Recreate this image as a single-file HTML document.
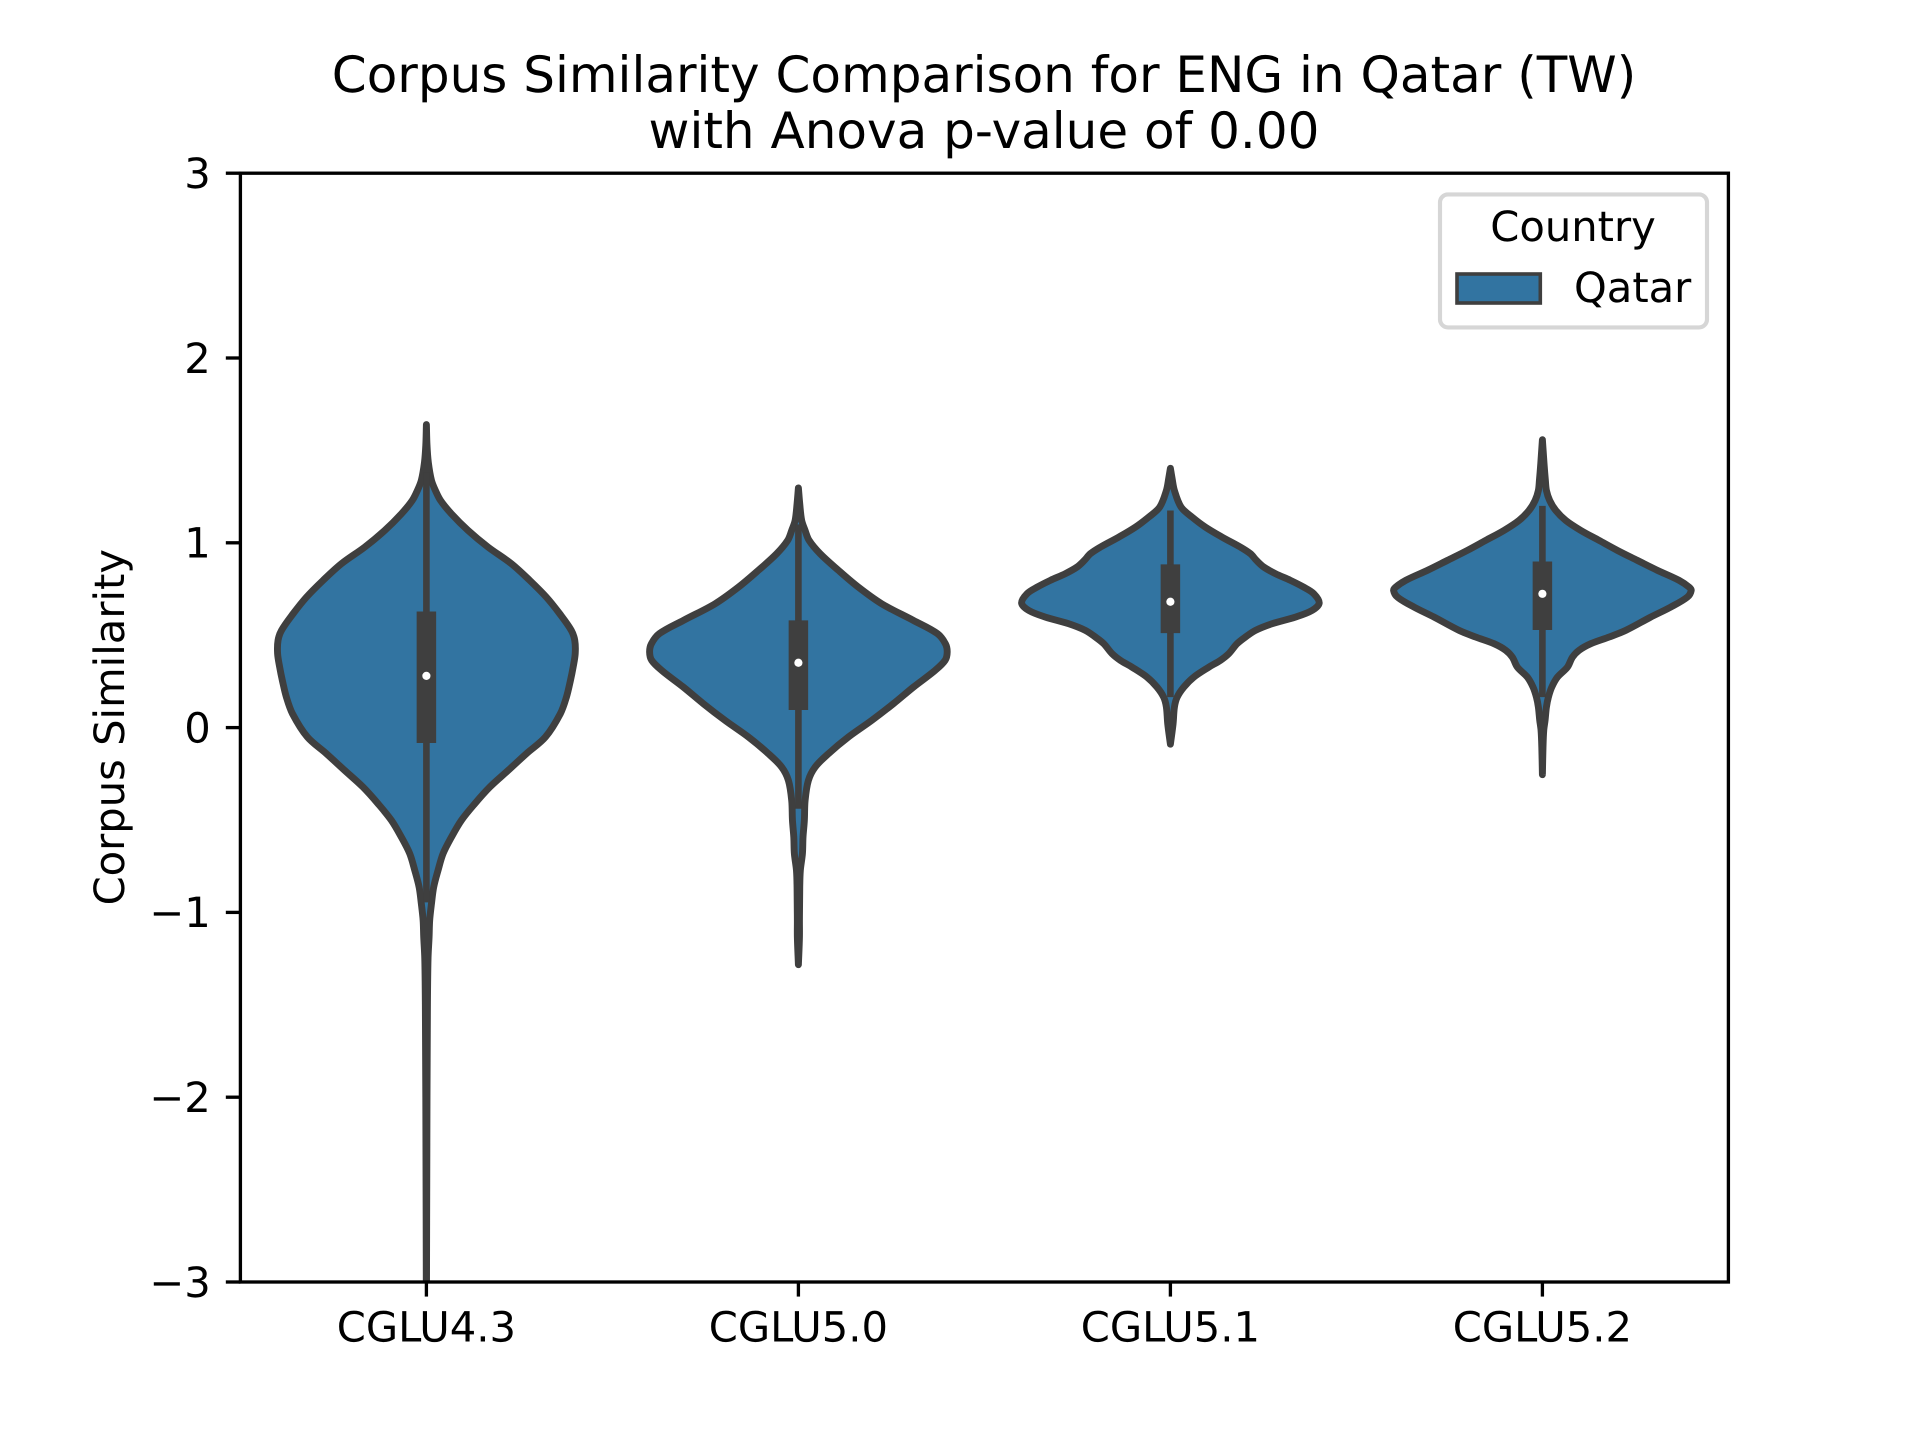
<!DOCTYPE html>
<html lang="en">
<head>
<meta charset="utf-8">
<title>Corpus Similarity Comparison for ENG in Qatar (TW)</title>
<style>
html,body{margin:0;padding:0;background:#fff;width:1920px;height:1440px;overflow:hidden}
svg{display:block}
text{font-family:"DejaVu Sans","Liberation Sans",sans-serif;fill:#000;text-rendering:geometricPrecision}
</style>
</head>
<body>
<svg id="chart" xmlns="http://www.w3.org/2000/svg" width="1920" height="1440" viewBox="0 0 1920 1440">
  <rect x="0" y="0" width="1920" height="1440" fill="#ffffff"/>
  <defs>
    <clipPath id="plot-clip"><rect x="240.4" y="173.2" width="1488" height="1108.8"/></clipPath>
  </defs>
  <g id="violins" clip-path="url(#plot-clip)"></g>
  <g id="ticks"></g>
  <rect x="240.4" y="173.2" width="1488" height="1108.8" fill="none" stroke="#000" stroke-width="3.33"/>
  <g text-anchor="middle" font-size="50">
    <text x="984" y="92">Corpus Similarity Comparison for ENG in Qatar (TW)</text>
    <text x="984" y="148">with Anova p-value of 0.00</text>
  </g>
  <text font-size="41.67" text-anchor="middle" transform="translate(124,727.2) rotate(-90)">Corpus Similarity</text>
  <g>
    <rect x="1440" y="194.4" width="267" height="133" rx="8" ry="8" fill="#ffffff" stroke="#d6d6d6" stroke-width="4.17"/>
    <text x="1573" y="241" font-size="41.67" text-anchor="middle">Country</text>
    <rect x="1457" y="274" width="83.3" height="29" fill="#3274a1" stroke="#3f3f3f" stroke-width="3.6"/>
    <text x="1574" y="302" font-size="41.67">Qatar</text>
  </g>
</svg>
<script>
const categories = ["CGLU4.3", "CGLU5.0", "CGLU5.1", "CGLU5.2"];
const yTickValues = [-3, -2, -1, 0, 1, 2, 3];
const yTickLabels = ["\u22123", "\u22122", "\u22121", "0", "1", "2", "3"];

const gridCglu43 = [1.64,1.528,1.435,1.338,1.284,1.229,1.157,1.067,0.977,0.887,0.797,0.706,0.616,0.526,0.472,0.400,0.327,0.255,0.165,0.075,-0.051,-0.141,-0.232,-0.322,-0.412,-0.502,-0.593,-0.682,-0.773,-0.863,-0.953,-1.043,-1.134,-1.249,-1.5,-2.0,-2.9,-3.5];
const densityCglu43 = [0,0.004,0.013,0.034,0.060,0.095,0.168,0.280,0.414,0.571,0.694,0.806,0.896,0.974,0.997,1.0,0.986,0.968,0.941,0.900,0.800,0.672,0.549,0.426,0.325,0.235,0.168,0.112,0.078,0.049,0.034,0.022,0.018,0.011,0.007,0.004,0.001,0];

const gridCglu50 = [1.297,1.211,1.121,1.067,1.013,0.941,0.851,0.760,0.670,0.580,0.508,0.454,0.409,0.364,0.309,0.219,0.129,0.039,-0.051,-0.141,-0.214,-0.286,-0.394,-0.502,-0.592,-0.682,-0.773,-0.863,-1.043,-1.134,-1.283];
const densityCglu50 = [0,0.009,0.022,0.045,0.072,0.146,0.269,0.403,0.560,0.773,0.935,0.988,1.0,0.986,0.918,0.773,0.638,0.493,0.336,0.202,0.112,0.067,0.045,0.040,0.031,0.027,0.013,0.009,0.007,0.007,0];

const gridCglu51 = [1.403,1.350,1.283,1.193,1.139,1.085,1.031,0.977,0.941,0.905,0.869,0.833,0.797,0.760,0.725,0.674,0.634,0.598,0.562,0.526,0.490,0.454,0.400,0.364,0.327,0.273,0.219,0.164,0.111,0.021,-0.09];
const densityCglu51 = [0,0.011,0.027,0.072,0.146,0.235,0.347,0.470,0.538,0.578,0.627,0.706,0.806,0.896,0.963,1.0,0.952,0.840,0.683,0.571,0.504,0.448,0.392,0.336,0.258,0.157,0.090,0.045,0.027,0.018,0];

const gridCglu52 = [1.558,1.428,1.338,1.283,1.229,1.175,1.121,1.067,1.013,0.959,0.905,0.851,0.797,0.760,0.742,0.706,0.652,0.598,0.526,0.490,0.454,0.418,0.381,0.327,0.273,0.219,0.164,0.111,0.04,-0.015,-0.106,-0.255];
const densityCglu52 = [0,0.011,0.020,0.027,0.049,0.090,0.157,0.258,0.381,0.504,0.638,0.773,0.918,0.986,1.0,0.974,0.862,0.728,0.560,0.448,0.325,0.246,0.202,0.168,0.101,0.063,0.040,0.027,0.018,0.009,0.004,0];

const violinGrids = [gridCglu43, gridCglu50, gridCglu51, gridCglu52];
const violinDensities = [densityCglu43, densityCglu50, densityCglu51, densityCglu52];

const whiskerLow = [-0.946, -0.439, 0.165, 0.165];
const whiskerHigh = [1.38, 1.10, 1.175, 1.20];
const quartile1 = [-0.083, 0.095, 0.511, 0.528];
const quartile3 = [0.628, 0.58, 0.883, 0.899];
const medians = [0.28, 0.351, 0.681, 0.724];

const NS = "http://www.w3.org/2000/svg";
const plot = {left: 240.4, right: 1728.4, top: 173.2, bottom: 1282};
function xScale(v) { return plot.left + (v + 0.5) * (plot.right - plot.left) / 4; }
function yScale(v) { return plot.bottom - (v + 3) * (plot.bottom - plot.top) / 6; }
function dist(a, b) { return Math.hypot(a[0] - b[0], a[1] - b[1]); }
function tangent(prev, cur, next) {
  const total = dist(prev, cur) + dist(cur, next);
  if (total === 0) return [0, 0];
  return [(next[0] - prev[0]) / total, (next[1] - prev[1]) / total];
}
function smoothPath(points) {
  let d = "M" + points[0][0].toFixed(2) + " " + points[0][1].toFixed(2);
  for (let i = 0; i < points.length - 1; i++) {
    const p0 = points[Math.max(i - 1, 0)];
    const p1 = points[i];
    const p2 = points[i + 1];
    const p3 = points[Math.min(i + 2, points.length - 1)];
    const len = dist(p1, p2) / 3;
    const t1 = tangent(p0, p1, p2);
    const t2 = tangent(p1, p2, p3);
    const c1x = p1[0] + t1[0] * len;
    const c1y = p1[1] + t1[1] * len;
    const c2x = p2[0] - t2[0] * len;
    const c2y = p2[1] - t2[1] * len;
    d += "C" + c1x.toFixed(2) + " " + c1y.toFixed(2) + " " + c2x.toFixed(2) + " " + c2y.toFixed(2) + " " + p2[0].toFixed(2) + " " + p2[1].toFixed(2);
  }
  return d;
}
function violinPath(i) {
  const grid = violinGrids[i];
  const dens = violinDensities[i];
  const right = grid.map(function (g, k) { return [xScale(i + dens[k] * 0.4), yScale(g)]; });
  const left = grid.map(function (g, k) { return [xScale(i - dens[k] * 0.4), yScale(g)]; }).reverse();
  return smoothPath(right) + smoothPath(left).replace(/^M[^C]*/, "") + "Z";
}

const violinLayer = document.getElementById("violins");
categories.forEach(function (cat, i) {
  const key = cat.toLowerCase().replace(".", "-");
  const group = document.createElementNS(NS, "g");
  
  

  const body = document.createElementNS(NS, "path");
  
  
  body.setAttribute("d", violinPath(i));
  body.setAttribute("fill", "#3274a1");
  body.setAttribute("stroke", "#3f3f3f");
  body.setAttribute("stroke-width", "6.9");
  body.setAttribute("stroke-linejoin", "round");
  group.appendChild(body);

  const whisker = document.createElementNS(NS, "line");
  
  
  whisker.setAttribute("x1", xScale(i));
  whisker.setAttribute("x2", xScale(i));
  whisker.setAttribute("y1", yScale(whiskerHigh[i]));
  whisker.setAttribute("y2", yScale(whiskerLow[i]));
  whisker.setAttribute("stroke", "#3f3f3f");
  whisker.setAttribute("stroke-width", "6.6");
  group.appendChild(whisker);

  const box = document.createElementNS(NS, "line");
  
  
  box.setAttribute("x1", xScale(i));
  box.setAttribute("x2", xScale(i));
  box.setAttribute("y1", yScale(quartile3[i]));
  box.setAttribute("y2", yScale(quartile1[i]));
  box.setAttribute("stroke", "#3f3f3f");
  box.setAttribute("stroke-width", "19.5");
  group.appendChild(box);

  const dot = document.createElementNS(NS, "circle");
  
  
  dot.setAttribute("cx", xScale(i));
  dot.setAttribute("cy", yScale(medians[i]));
  dot.setAttribute("r", "4.1");
  dot.setAttribute("fill", "#ffffff");
  group.appendChild(dot);

  violinLayer.appendChild(group);
});

const tickLayer = document.getElementById("ticks");
yTickValues.forEach(function (v, i) {
  const tick = document.createElementNS(NS, "line");
  
  
  tick.setAttribute("x1", plot.left);
  tick.setAttribute("x2", plot.left - 14.58);
  tick.setAttribute("y1", yScale(v));
  tick.setAttribute("y2", yScale(v));
  tick.setAttribute("stroke", "#000");
  tick.setAttribute("stroke-width", "3.33");
  tickLayer.appendChild(tick);

  const label = document.createElementNS(NS, "text");
  
  
  label.setAttribute("x", plot.left - 29.6);
  label.setAttribute("y", yScale(v) + 14.8);
  label.setAttribute("font-size", "41.67");
  label.setAttribute("text-anchor", "end");
  label.textContent = yTickLabels[i];
  tickLayer.appendChild(label);
});
categories.forEach(function (cat, i) {
  const tick = document.createElementNS(NS, "line");
  
  
  tick.setAttribute("x1", xScale(i));
  tick.setAttribute("x2", xScale(i));
  tick.setAttribute("y1", plot.bottom);
  tick.setAttribute("y2", plot.bottom + 14.58);
  tick.setAttribute("stroke", "#000");
  tick.setAttribute("stroke-width", "3.33");
  tickLayer.appendChild(tick);

  const label = document.createElementNS(NS, "text");
  
  
  label.setAttribute("x", xScale(i));
  label.setAttribute("y", plot.bottom + 59.6);
  label.setAttribute("font-size", "41.67");
  label.setAttribute("text-anchor", "middle");
  label.textContent = cat;
  tickLayer.appendChild(label);
});
</script>
</body>
</html>
